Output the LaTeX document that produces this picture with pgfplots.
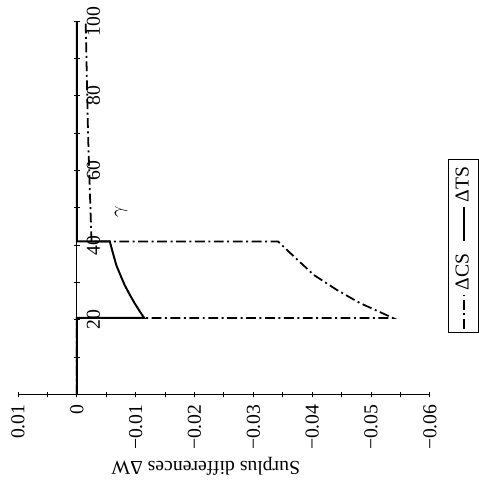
\documentclass[border=0pt]{standalone}
\usepackage{fontspec}
\setmainfont{Liberation Serif}
\usepackage{pgfplots}
\pgfplotsset{compat=1.18}
\begin{document}
\begin{tikzpicture}[rotate=90, transform shape]
\begin{axis}[
  scale only axis,
  width=189.5pt, height=209.2pt,
  xmin=0, xmax=100, ymin=-0.06, ymax=0.01,
  axis lines=middle,
  axis line style={-, line width=0.6pt},
  hide obscured x ticks=false,
  hide obscured y ticks=false,
  xtick={20,40,60,80,100},
  xticklabels={\textrm{20},\textrm{40},\textrm{60},\textrm{80},\textrm{100}},
  minor xtick={10,30,50,70,90},
  ytick={0.01,0,-0.01,-0.02,-0.03,-0.04,-0.05,-0.06},
  yticklabels={\textrm{0.01},\textrm{0},\textrm{−0.01},\textrm{−0.02},\textrm{−0.03},\textrm{−0.04},\textrm{−0.05},\textrm{−0.06}},
  minor ytick={0.005,-0.005,-0.015,-0.025,-0.035,-0.045,-0.055},
  tick style={black, line width=0.5pt},
  major tick length=3pt, minor tick length=3pt,
  tick label style={font=\fontsize{10}{12}\selectfont},
  scaled y ticks=false,
  ylabel={Surplus differences ΔW},
  ylabel style={at={(axis description cs:-0.193,0.544)}, anchor=center, rotate=90, font=\fontsize{10}{12}\selectfont},
  clip=false,
  legend columns=-1,
  legend style={at={(axis description cs:0.398,-0.082)}, anchor=center, draw=black, line width=0.4pt,
    font=\fontsize{10}{12}\selectfont, inner sep=1.5pt,
    /tikz/every even column/.append style={column sep=4pt}},
]
\addplot[black, line width=0.9pt, dash pattern=on 5pt off 1.8pt on 1pt off 1.8pt] coordinates {
 (0,0) (20.5,0) (20.5,-0.0537) (21.3,-0.0526) (24.5,-0.0481) (28.0,-0.0442) (32.0,-0.0403)
 (37.7,-0.0364) (41,-0.0342) (41,-0.0025) (55,-0.0022) (70,-0.0019) (85,-0.0017) (100,-0.0015)
};
\addlegendentry{ΔCS}
\addplot[black, line width=1pt] coordinates {
 (0,0) (20.5,0) (20.5,-0.01145) (22.5,-0.0106) (24.5,-0.0098) (27,-0.0089) (29.4,-0.0081)
 (32,-0.0074) (34.6,-0.00672) (37.5,-0.0062) (41,-0.0056) (41,0) (100,0)
};
\addlegendentry{ΔTS}
\node at (axis cs:49,-0.0075) {$\gamma$};
\path (rel axis cs:-0.256,-0.108) rectangle (rel axis cs:1.037,1.0437);
\end{axis}
\end{tikzpicture}
\end{document}
